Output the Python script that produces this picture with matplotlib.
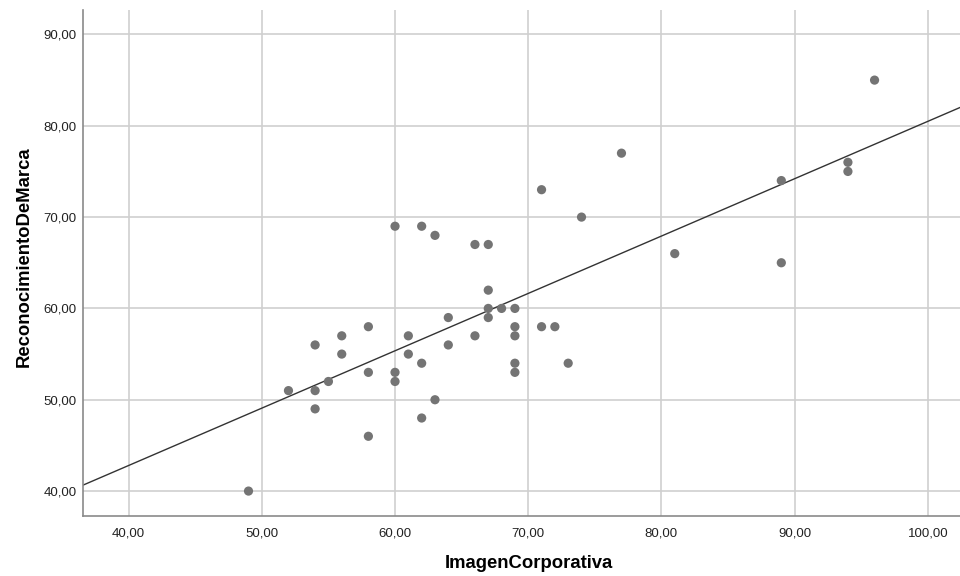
import numpy as np
import matplotlib
matplotlib.use('Agg')
import matplotlib.pyplot as plt
from matplotlib.ticker import FuncFormatter

plt.rcParams['font.family'] = ['Liberation Sans', 'DejaVu Sans']

# data
imagen = [49, 52, 54, 54, 54, 55, 56, 56, 58, 58, 58, 60, 60, 60, 61, 61,
          62, 62, 62, 63, 63, 64, 64, 66, 66, 67, 67, 67, 67, 68, 69, 69,
          69, 69, 69, 71, 71, 72, 73, 74, 77, 81, 89, 89, 94, 94, 96]
reconocimiento = [40, 51, 56, 51, 49, 52, 57, 55, 58, 53, 46, 69, 53, 52, 57, 55,
                  69, 54, 48, 68, 50, 59, 56, 67, 57, 67, 62, 60, 59, 60, 60, 58,
                  57, 54, 53, 73, 58, 58, 54, 70, 77, 66, 74, 65, 76, 75, 85]
x_ticks = [40, 50, 60, 70, 80, 90, 100]
y_ticks = [40, 50, 60, 70, 80, 90]

x = np.array(imagen, dtype=float)
y = np.array(reconocimiento, dtype=float)
slope, intercept = np.polyfit(x, y, 1)

fig = plt.figure(figsize=(9.6, 5.76), dpi=100)
ax = fig.add_axes([0.0868, 0.104, 0.913, 0.879])

ax.set_xlim(36.6, 102.4)
ax.set_ylim(37.26, 92.7)
ax.set_xticks(x_ticks)
ax.set_yticks(y_ticks)
ax.grid(True, color='#cfcfcf', linewidth=1.2)
ax.set_axisbelow(True)

xl = np.array(ax.get_xlim())
ax.plot(xl, slope * xl + intercept, color='#333333', linewidth=1.0, zorder=2)
ax.scatter(x, y, s=44, color='#747474', edgecolors='none', zorder=3)

fmt = FuncFormatter(lambda v, p: '{:.2f}'.format(v).replace('.', ','))
ax.xaxis.set_major_formatter(fmt)
ax.yaxis.set_major_formatter(fmt)
ax.tick_params(axis='y', length=0, labelsize=9.5, colors='#222222', pad=5)
ax.tick_params(axis='x', length=0, labelsize=9.5, colors='#222222', pad=8)

for s in ['top', 'right']:
    ax.spines[s].set_visible(False)
for s in ['left', 'bottom']:
    ax.spines[s].set_color('#8a8a8a')
    ax.spines[s].set_linewidth(1.2)

# axis titles placed as figure text, centred where they sit in the reference
fig.text(0.551, 0.021, 'ImagenCorporativa', fontsize=13.3, fontweight='bold',
         ha='center', va='center')
fig.text(0.025, 0.554, 'ReconocimientoDeMarca', fontsize=13.3, fontweight='bold',
         ha='center', va='center', rotation=90)

fig.savefig('out.png', dpi=100)
